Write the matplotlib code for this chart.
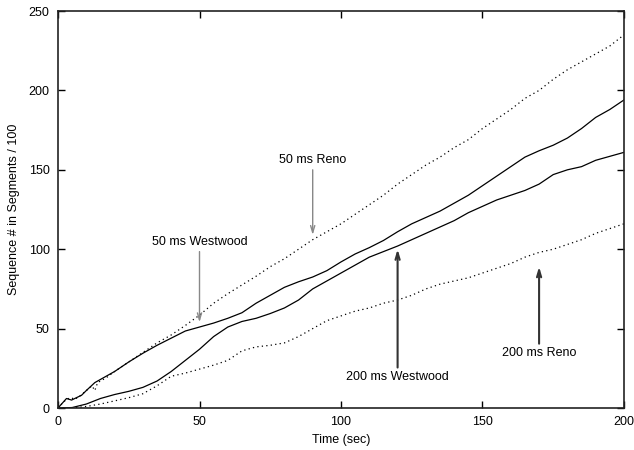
import matplotlib
matplotlib.use("Agg")
import matplotlib.pyplot as plt

plt.rcParams['font.family'] = ['Liberation Sans', 'DejaVu Sans']

# sequence number traces (segments / 100) vs time in seconds
reno50_t = [0, 1.5, 3, 4.5, 6, 8, 10, 12, 13, 14, 17, 20, 25, 30, 35, 40, 45, 50, 55, 60, 65, 70, 75,
            80, 85, 90, 95, 100, 105, 110, 115, 120, 125, 130, 135, 140, 145, 150, 155, 160, 165,
            170, 175, 180, 185, 190, 195, 200]
reno50_y = [0, 3, 5.5, 6.5, 5.5, 8, 11, 14, 11, 16, 19, 23, 29, 35, 41, 46, 52, 58.5, 66, 72, 77.5,
            83, 89, 94, 100, 106, 111, 116, 122, 128, 134, 141, 147, 153, 158, 164, 169, 176, 182,
            188, 195, 200, 207, 213, 218, 223, 228, 235]

westwood50_t = [0, 1.5, 3, 4.8, 6.5, 8.3, 10, 13, 17, 20, 25, 30, 35, 40, 45, 50, 55, 60, 65, 70,
                75, 80, 85, 90, 95, 100, 105, 110, 115, 120, 125, 130, 135, 140, 145, 150, 155, 160,
                165, 170, 175, 180, 185, 190, 195, 200]
westwood50_y = [0, 3, 6, 5, 6.5, 8, 11, 16, 20, 23, 29, 34.5, 39.5, 44, 48.5, 51, 53.5, 56.5, 60,
                66, 71, 76, 79.5, 82.5, 86.5, 92, 97, 101, 105.5, 111, 116, 120, 124, 129, 134,
                140, 146, 152, 158, 162, 165.5, 170, 176, 183, 188, 194]

westwood200_t = [0, 5, 10, 15, 20, 25, 30, 35, 40, 45, 50, 55, 60, 65, 70, 75, 80, 85, 90, 95, 100,
                 105, 110, 115, 120, 125, 130, 135, 140, 145, 150, 155, 160, 165, 170, 175, 180,
                 185, 190, 195, 200]
westwood200_y = [0, 0.3, 2.5, 6, 8.5, 10.5, 13, 17, 23, 30, 37, 45, 51, 54.5, 56.5, 59.5, 63, 68,
                 75, 80, 85, 90, 95, 98.5, 102, 106, 110, 114, 118, 123, 127, 131, 134, 137, 141,
                 147, 150, 152, 156, 158.5, 161]

reno200_t = [0, 5, 10, 15, 20, 25, 30, 35, 40, 45, 50, 55, 60, 65, 70, 75, 80, 85, 90, 95, 100,
             105, 110, 115, 120, 125, 130, 135, 140, 145, 150, 155, 160, 165, 170, 175, 180, 185,
             190, 195, 200]
reno200_y = [0, 0, 1, 2.5, 4.5, 6.5, 9, 14, 20, 22, 24.5, 27, 30, 36, 38.5, 39.5, 41, 45, 50, 55,
             58, 61, 63, 66, 68, 71, 75, 78, 80, 82, 85, 88, 91, 95, 98, 100, 103, 106, 110, 113,
             116]

# annotation text, text position, arrow tip
ann_labels = ['50 ms Reno', '50 ms Westwood', '200 ms Westwood', '200 ms Reno']
ann_text_xy = [(90, 156), (50, 104.5), (120, 19.5), (170, 34.5)]
ann_tip_xy = [(90, 109), (50, 54), (120, 100), (170, 89)]

fig = plt.figure(figsize=(6.34, 4.5), dpi=100)
ax = fig.add_axes([0.0915, 0.0933, 0.8927, 0.8822])

dot = (0, (1, 2.6))
ax.plot(reno50_t, reno50_y, color='black', lw=0.9, linestyle=dot)
ax.plot(westwood50_t, westwood50_y, color='black', lw=0.9)
ax.plot(westwood200_t, westwood200_y, color='black', lw=0.9)
ax.plot(reno200_t, reno200_y, color='black', lw=0.9, linestyle=dot)

arrow_cols = ['#888888', '#888888', '#333333', '#333333']
arrow_lw = [1.0, 1.0, 1.5, 1.5]
for lab, txy, tip, c, lw in zip(ann_labels, ann_text_xy, ann_tip_xy, arrow_cols, arrow_lw):
    ax.text(txy[0], txy[1], lab, ha='center', va='center', fontsize=9)
    start_y = txy[1] - 6 if tip[1] < txy[1] else txy[1] + 6
    ax.annotate('', xy=tip, xytext=(txy[0], start_y),
                arrowprops=dict(arrowstyle='->,head_length=0.5,head_width=0.15',
                                color=c, lw=lw, shrinkA=0, shrinkB=0))

ax.set_xlim(0, 200)
ax.set_ylim(0, 250)
ax.set_xticks([0, 50, 100, 150, 200])
ax.set_yticks([0, 50, 100, 150, 200, 250])
ax.tick_params(direction='in', length=5, width=1, top=True, right=True, labelsize=9, pad=6)
for s in ax.spines.values():
    s.set_linewidth(1.2)
    s.set_color('#222222')

ax.set_xlabel('Time (sec)', fontsize=9, labelpad=4)
ax.set_ylabel('Sequence # in Segments / 100', fontsize=9, labelpad=6)

fig.savefig('out.png', dpi=100)
